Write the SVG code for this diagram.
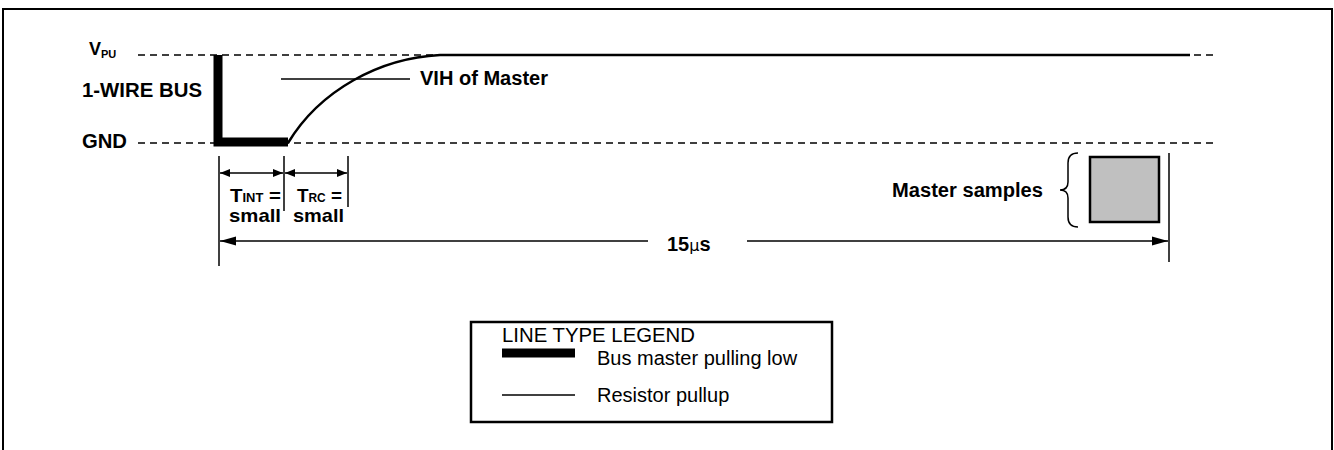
<svg xmlns="http://www.w3.org/2000/svg" width="1334" height="450" viewBox="0 0 1334 450">
<style>
.b{font-family:"Liberation Sans",Arial,sans-serif;font-weight:bold;fill:#000}
.r{font-family:"Liberation Sans",Arial,sans-serif;fill:#000}
.dash{stroke:#000;stroke-width:1.5;stroke-dasharray:7,5;fill:none}
.thin{stroke:#000;stroke-width:1.5;fill:none}
.pull{stroke:#000;stroke-width:2.5;fill:none}
.thick{stroke:#000;stroke-width:9;fill:none}
</style>
<defs>
<marker id="ah" viewBox="0 0 10 10" refX="10" refY="5" markerWidth="10" markerHeight="10" markerUnits="userSpaceOnUse" orient="auto-start-reverse">
<path d="M0,1 L10,5 L0,9 Z" fill="#000"/>
</marker>
<marker id="ahL" viewBox="0 0 16 10" refX="16" refY="5" markerWidth="16" markerHeight="10" markerUnits="userSpaceOnUse" orient="auto-start-reverse">
<path d="M0,0.5 L16,5 L0,9.5 Z" fill="#000"/>
</marker>
</defs>
<rect x="3" y="9" width="1329" height="460" fill="#fff" stroke="#000" stroke-width="2"/>

<g id="levels">
<line class="dash" x1="138" y1="55" x2="1218" y2="55"/>
<line class="dash" x1="138" y1="143" x2="1218" y2="143"/>
<text class="b" x="89" y="55" font-size="18">V<tspan font-size="11" dy="3">PU</tspan></text>
<text class="b" x="82" y="97" font-size="20" textLength="120" lengthAdjust="spacingAndGlyphs">1-WIRE BUS</text>
<text class="b" x="82" y="148" font-size="20" textLength="45" lengthAdjust="spacingAndGlyphs">GND</text>
</g>

<g id="waveform">
<path class="thick" d="M218,55 L218,142 L288,142"/>
<path class="pull" d="M288,143 C320,90 380,58 440,55 L1190,55"/>
</g>

<g id="vih">
<line class="thin" x1="281" y1="79" x2="410" y2="79"/>
<text class="b" x="420" y="85" font-size="20" textLength="128" lengthAdjust="spacingAndGlyphs">VIH of Master</text>
</g>

<g id="timing">
<line class="thin" x1="219" y1="156" x2="219" y2="266"/>
<line class="thin" x1="284" y1="156" x2="284" y2="211"/>
<line class="thin" x1="348" y1="156" x2="348" y2="207"/>
<line class="thin" x1="1169" y1="153" x2="1169" y2="262"/>
<line class="thin" x1="220" y1="173" x2="283" y2="173" marker-start="url(#ah)" marker-end="url(#ah)"/>
<line class="thin" x1="285" y1="173" x2="347" y2="173" marker-start="url(#ah)" marker-end="url(#ah)"/>
<line class="thin" x1="220" y1="241" x2="648" y2="241" marker-start="url(#ahL)"/>
<line class="thin" x1="747" y1="241" x2="1168" y2="241" marker-end="url(#ahL)"/>
<text class="b" x="230" y="202" font-size="19" textLength="51" lengthAdjust="spacingAndGlyphs">T<tspan font-size="12">INT</tspan> =</text>
<text class="b" x="229" y="222" font-size="19" textLength="52" lengthAdjust="spacingAndGlyphs">small</text>
<text class="b" x="297" y="202" font-size="19" textLength="45" lengthAdjust="spacingAndGlyphs">T<tspan font-size="12">RC</tspan> =</text>
<text class="b" x="293" y="222" font-size="19" textLength="51" lengthAdjust="spacingAndGlyphs">small</text>
<text class="b" x="667" y="251" font-size="20">15<tspan font-weight="normal" font-family="DejaVu Sans,sans-serif" font-size="16">μ</tspan>s</text>
</g>

<g id="sample">
<rect x="1090" y="157" width="69" height="65" fill="#c0c0c0" stroke="#000" stroke-width="2.5"/>
<path class="thin" d="M1078,153 Q1068,153 1068,163 L1068,182 Q1068,190 1060,190 Q1068,190 1068,198 L1068,217 Q1068,227 1078,227"/>
<text class="b" x="892" y="197" font-size="20" textLength="151" lengthAdjust="spacingAndGlyphs">Master samples</text>
</g>

<g id="legend">
<rect x="471" y="322" width="361" height="100" fill="#fff" stroke="#000" stroke-width="2.5"/>
<text class="r" x="502" y="342" font-size="20" textLength="193" lengthAdjust="spacingAndGlyphs">LINE TYPE LEGEND</text>
<line class="thick" x1="502" y1="353" x2="575" y2="353" stroke-width="7"/>
<text class="r" x="597" y="365" font-size="20">Bus master pulling low</text>
<line class="thin" x1="502" y1="395" x2="575" y2="395" stroke-width="2"/>
<text class="r" x="597" y="402" font-size="20">Resistor pullup</text>
</g>
</svg>
